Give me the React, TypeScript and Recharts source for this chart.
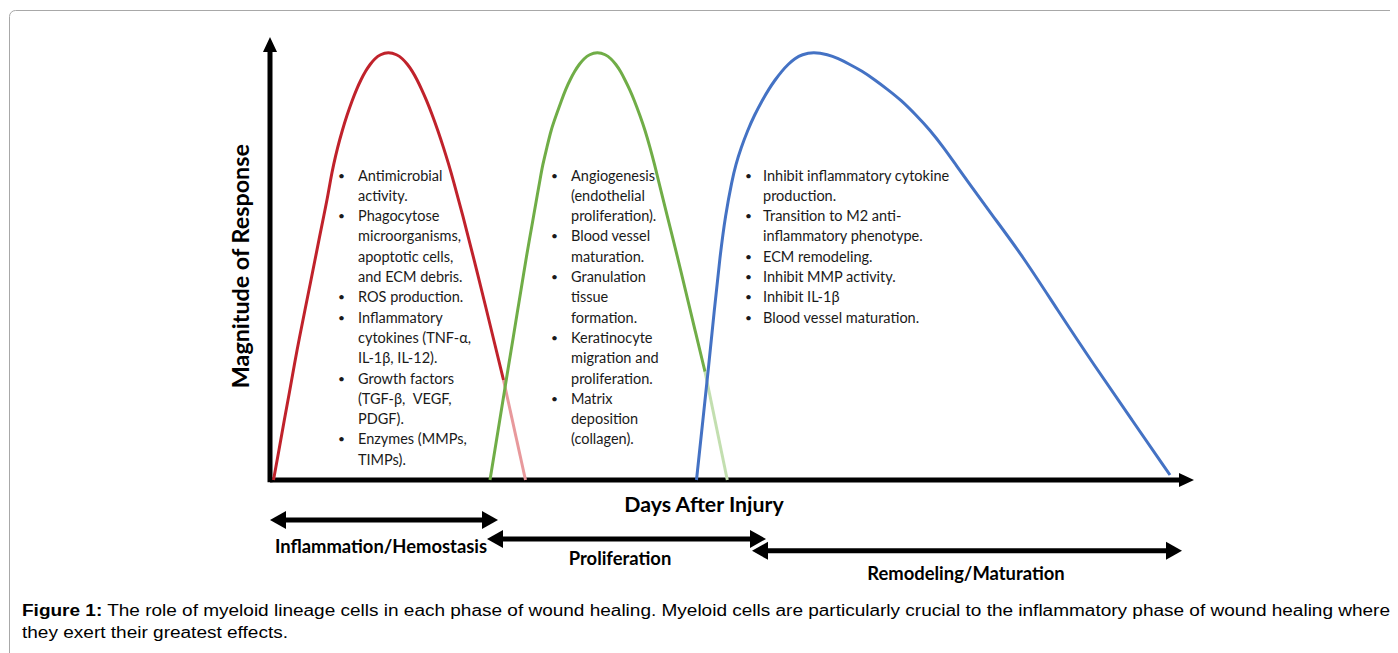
import React from 'react';
import { ComposedChart, Line, XAxis, YAxis, ReferenceLine, ReferenceDot } from 'recharts';

// ---- curve data (x = days after injury, v = magnitude of response) ----
const RED_X = [0.35, 0.9, 1.43, 1.95, 2.43, 2.95, 3.5, 4.0, 4.5, 4.95, 5.4, 5.8, 6.05, 6.35, 6.74, 7.24, 7.7, 8.23, 8.67, 9.08, 9.56, 10.03, 10.5, 11.01, 11.83,
  12.7, 13.23, 13.73, 14.23, 14.72, 15.15, 15.64, 16.23, 16.77, 17.37, 17.89, 18.32, 19.27, 20.42, 21.65, 22.5, 23.35];
const RED_V = [0, 6.82, 13.64, 20, 26.14, 32.5, 38.64, 44.32, 50, 55.23, 60.23, 64.77, 68.18, 71.59, 75.45, 79.55, 82.95, 86.36, 88.86, 90.91, 92.95, 94.55, 95.8, 96.7, 97.27,
  96.7, 95.8, 94.55, 92.95, 90.91, 88.86, 86.36, 82.95, 79.55, 75.45, 71.59, 68.18, 60.23, 50, 38.64, 30.68, 22.73];
const RED_TAIL_X = [23.35, 25.55];
const RED_TAIL_V = [22.73, 0];

const GREEN_X = [22.0, 22.49, 22.98, 23.43, 23.87, 24.33, 24.77, 25.18, 25.67, 25.99, 26.38, 26.73, 27.0, 27.26, 27.68, 28.1, 28.63, 29.16, 29.58, 30.0, 30.48, 30.94, 31.42, 31.92, 32.73,
  33.57, 34.08, 34.57, 35.04, 35.5, 35.95, 36.42, 36.98, 37.5, 38.02, 38.47, 38.83, 39.7, 40.7, 41.54, 42.5, 43.5];
const GREEN_V = [0, 6.82, 13.64, 20, 26.14, 32.5, 38.64, 44.32, 51.14, 55.23, 60.23, 64.77, 68.18, 71.59, 75.45, 79.55, 82.95, 86.36, 88.86, 90.91, 92.95, 94.55, 95.8, 96.7, 97.27,
  96.7, 95.8, 94.55, 92.95, 90.91, 88.86, 86.36, 82.95, 79.55, 75.45, 71.59, 68.18, 60.23, 51.14, 43.18, 34.09, 24.61];
const GREEN_TAIL_X = [43.5, 45.73];
const GREEN_TAIL_V = [24.61, 0];

const BLUE_X = [42.65, 43.29, 43.88, 44.43, 44.99, 45.54, 46.21, 46.57, 47.1, 47.78, 48.45, 49.24, 49.89, 50.5, 51.19, 51.84, 52.49, 53.19, 54.33,
  55.8, 56.8, 57.9, 59.2, 60.5, 61.7, 63.1, 64.6, 66.0, 67.4, 68.6, 69.67, 72.2, 75.2, 78.75, 82.4, 86.2, 90.0];
const BLUE_V = [0, 13.64, 26.14, 38.64, 50.68, 60.23, 68.18, 71.59, 75.45, 79.55, 82.95, 86.36, 88.86, 90.91, 92.95, 94.55, 95.8, 96.7, 97.27,
  96.7, 95.8, 94.55, 92.95, 90.91, 88.86, 86.36, 82.95, 79.55, 75.45, 71.59, 68.18, 60.23, 51.14, 38.64, 26.14, 13.64, 1.14];

// ---- phases ----
const PHASES = ['Inflammation/Hemostasis', 'Proliferation', 'Remodeling/Maturation'];
const PHASE_START = [0, 21.7, 48.2];
const PHASE_END = [22.8, 49.6, 91.2];
const PHASE_LEVEL = [-9.09, -13.4, -16.1];
const PHASE_LABEL_X = [11.1, 35.0, 69.6];
const PHASE_LABEL_V = [-15.0, -17.7, -21.1];

// ---- notes ----
const RED_NOTES = [
  ['Antimicrobial', 'activity.'],
  ['Phagocytose', 'microorganisms,', 'apoptotic cells,', 'and ECM debris.'],
  ['ROS production.'],
  ['Inflammatory', 'cytokines (TNF-\u03b1,', 'IL-1\u03b2, IL-12).'],
  ['Growth factors', '(TGF-\u03b2,  VEGF,', 'PDGF).'],
  ['Enzymes (MMPs,', 'TIMPs).'],
];
const GREEN_NOTES = [
  ['Angiogenesis', '(endothelial', 'proliferation).'],
  ['Blood vessel', 'maturation.'],
  ['Granulation', 'tissue', 'formation.'],
  ['Keratinocyte', 'migration and', 'proliferation.'],
  ['Matrix', 'deposition', '(collagen).'],
];
const BLUE_NOTES = [
  ['Inhibit inflammatory cytokine', 'production.'],
  ['Transition to M2 anti-', 'inflammatory phenotype.'],
  ['ECM remodeling.'],
  ['Inhibit MMP activity.'],
  ['Inhibit IL-1\u03b2'],
  ['Blood vessel maturation.'],
];
const NOTE_X = [8.8, 30.1, 49.3];
const NOTE_V = 69.3;

const Y_TITLE = 'Magnitude of Response';
const X_TITLE = 'Days After Injury';
const CAPTION_BOLD = 'Figure 1:';
const CAPTION_1 = ' The role of myeloid lineage cells in each phase of wound healing. Myeloid cells are particularly crucial to the inflammatory phase of wound healing where';
const CAPTION_2 = 'they exert their greatest effects.';

const toPts = (xs: number[], vs: number[]) => xs.map((x, i) => ({ x, v: vs[i] }));

const FONT = 'Lato, "Open Sans", sans-serif';
const LINE_H = 20.3;

const arrow = (dir: 'up' | 'left' | 'right', len = 16, half = 8) => (p: any) => {
  const { cx, cy } = p;
  let pts = '';
  if (dir === 'right') pts = `${cx},${cy} ${cx - len},${cy - half} ${cx - len},${cy + half}`;
  if (dir === 'left') pts = `${cx},${cy} ${cx + len},${cy - half} ${cx + len},${cy + half}`;
  if (dir === 'up') pts = `${cx},${cy} ${cx - half},${cy + len} ${cx + half},${cy + len}`;
  return <polygon points={pts} fill="#000" />;
};

const notesShape = (notes: string[][], bulletOff: number) => (p: any) => {
  const { cx, cy } = p;
  const rows: { t: string; b: boolean }[] = [];
  notes.forEach((item) => item.forEach((t, j) => rows.push({ t, b: j === 0 })));
  return (
    <g fontFamily={FONT} fontSize={14.5} fill="#1a1a1a">
      {rows.map((r, i) => (
        <g key={i}>
          {r.b && (
            <text x={cx - bulletOff} y={cy + i * LINE_H} dominantBaseline="central" fontSize={12}>
              {'\u2022'}
            </text>
          )}
          <text x={cx} y={cy + i * LINE_H} dominantBaseline="central" style={{ whiteSpace: 'pre' }}>
            {r.t}
          </text>
        </g>
      ))}
    </g>
  );
};

const labelShape = (txt: string, size: number, rotate = false) => (p: any) => {
  const { cx, cy } = p;
  return (
    <text
      x={cx}
      y={cy}
      textAnchor="middle"
      dominantBaseline="central"
      fontFamily={FONT}
      fontWeight="bold"
      fontSize={size}
      fill="#000"
      transform={rotate ? `rotate(-90 ${cx} ${cy})` : undefined}
    >
      {txt}
    </text>
  );
};

const lineProps = { dataKey: 'v', strokeWidth: 3, dot: false, activeDot: false, isAnimationActive: false } as const;

export default function App() {
  return (
    <div style={{ position: 'relative', width: 1390, height: 645, overflow: 'hidden' }}>
      <svg width={1390} height={645} style={{ position: 'absolute', left: 0, top: 0 }}>
        <rect x={1.5} y={2.5} width={2000} height={2000} rx={6} fill="none" stroke="#a8a8a8" strokeWidth={1} />
        <text x={14} y={608} fontFamily='"Liberation Sans", Arial, sans-serif' fontSize={16} fill="#000" textLength={1368} lengthAdjust="spacingAndGlyphs">
          <tspan fontWeight="bold">{CAPTION_BOLD}</tspan>
          <tspan>{CAPTION_1}</tspan>
        </text>
        <text x={14} y={630} fontFamily='"Liberation Sans", Arial, sans-serif' fontSize={16} fill="#000" textLength={266} lengthAdjust="spacingAndGlyphs">
          {CAPTION_2}
        </text>
      </svg>
      <div style={{ position: 'absolute', left: 0, top: 0 }}>
        <ComposedChart width={1390} height={600} margin={{ top: 14.4, right: 168, bottom: 18, left: 262 }}>
          <XAxis type="number" dataKey="x" domain={[0, 96]} hide />
          <YAxis type="number" dataKey="v" domain={[-25, 104]} hide />

          {/* axes */}
          <ReferenceLine segment={[{ x: 0, y: 0 }, { x: 91.4, y: 0 }]} stroke="#000" strokeWidth={5} ifOverflow="visible" />
          <ReferenceLine segment={[{ x: 0, y: -0.5 }, { x: 0, y: 98.5 }]} stroke="#000" strokeWidth={5} ifOverflow="visible" />
          <ReferenceDot x={92.4} y={0} r={0} ifOverflow="visible" shape={arrow('right', 15, 7)} />
          <ReferenceDot x={0} y={100.7} r={0} ifOverflow="visible" shape={arrow('up', 15, 7)} />

          {/* curves */}
          <Line {...lineProps} data={toPts(RED_TAIL_X, RED_TAIL_V)} type="linear" stroke="#e8999c" />
          <Line {...lineProps} data={toPts(GREEN_TAIL_X, GREEN_TAIL_V)} type="linear" stroke="#c3dfb0" />
          <Line {...lineProps} data={toPts(RED_X, RED_V)} type="basis" stroke="#c0222b" />
          <Line {...lineProps} data={toPts(GREEN_X, GREEN_V)} type="basis" stroke="#70ad47" />
          <Line {...lineProps} data={toPts(BLUE_X, BLUE_V)} type="basis" stroke="#4472c4" />

          {/* notes */}
          <ReferenceDot x={NOTE_X[0]} y={NOTE_V} r={0} ifOverflow="visible" shape={notesShape(RED_NOTES, 20)} />
          <ReferenceDot x={NOTE_X[1]} y={NOTE_V} r={0} ifOverflow="visible" shape={notesShape(GREEN_NOTES, 20)} />
          <ReferenceDot x={NOTE_X[2]} y={NOTE_V} r={0} ifOverflow="visible" shape={notesShape(BLUE_NOTES, 18)} />

          {/* titles */}
          <ReferenceDot x={-3.0} y={48.6} r={0} ifOverflow="visible" shape={labelShape(Y_TITLE, 23.3, true)} />
          <ReferenceDot x={43.4} y={-5.45} r={0} ifOverflow="visible" shape={labelShape(X_TITLE, 21.3)} />

          {/* phase arrows */}
          {PHASES.map((name, i) => (
            <ReferenceLine
              key={'pl' + i}
              segment={[{ x: PHASE_START[i] + 1.2, y: PHASE_LEVEL[i] }, { x: PHASE_END[i] - 1.2, y: PHASE_LEVEL[i] }]}
              stroke="#000"
              strokeWidth={5}
              ifOverflow="visible"
            />
          ))}
          {PHASES.map((name, i) => (
            <ReferenceDot key={'pa' + i} x={PHASE_START[i]} y={PHASE_LEVEL[i]} r={0} ifOverflow="visible" shape={arrow('left', 16, 9)} />
          ))}
          {PHASES.map((name, i) => (
            <ReferenceDot key={'pb' + i} x={PHASE_END[i]} y={PHASE_LEVEL[i]} r={0} ifOverflow="visible" shape={arrow('right', 16, 9)} />
          ))}
          {PHASES.map((name, i) => (
            <ReferenceDot key={'pt' + i} x={PHASE_LABEL_X[i]} y={PHASE_LABEL_V[i]} r={0} ifOverflow="visible" shape={labelShape(name, 18.4)} />
          ))}
        </ComposedChart>
      </div>
    </div>
  );
}
